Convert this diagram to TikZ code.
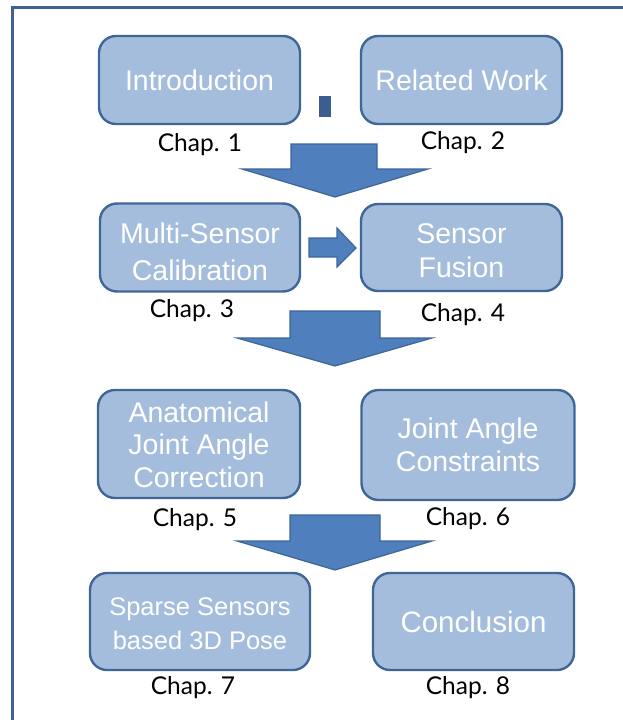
\documentclass[tikz,border=0pt]{standalone}
\usepackage{fontspec}
\setmainfont{Liberation Sans}
\newfontfamily\chapfont{Lato}
\definecolor{boxfill}{HTML}{A5BDDC}
\definecolor{boxline}{HTML}{3F6697}
\definecolor{arrfill}{HTML}{4F7FBC}
\definecolor{arrline}{HTML}{3E6699}
\definecolor{frameline}{HTML}{3F6294}
\definecolor{markfill}{HTML}{3B5E8E}
\begin{document}
\begin{tikzpicture}[x=1pt,y=-1pt,
  chapbox/.style={draw=boxline, line width=2.4pt, fill=boxfill, rounded corners=17pt,
    text=white, align=center, inner sep=0pt},
  chaplabel/.style={font=\chapfont\fontsize{24.5}{28}\selectfont, text=black, inner sep=0pt},
  blockarrow/.style={fill=arrfill, draw=arrline, line width=1.2pt, line join=miter}]
\useasboundingbox (0,0) rectangle (623,720);
\fill[white] (0,0) rectangle (623,720);
% frame
\coordinate (fa) at (12,720);
\coordinate (fb) at (12,7);
\coordinate (fc) at (623,7);
\draw[frameline, line width=3pt] (fa) -- (fb) -- (fc);

% boxes
\node[chapbox, minimum width=201pt, minimum height=88pt, font=\fontsize{28.5}{34}\selectfont] (intro) at (199.5,80) {Introduction};
\node[chapbox, minimum width=201pt, minimum height=88pt, font=\fontsize{28.5}{34}\selectfont] (rel) at (461.5,80) {Related Work};
\node[chapbox, minimum width=200pt, minimum height=88pt] (multi) at (200,247.5) {};
\node[text=white, align=center, inner sep=0pt, font=\fontsize{28.5}{37}\selectfont] (multit) at (200,251.5) {Multi-Sensor\\Calibration};
\node[chapbox, minimum width=201pt, minimum height=87pt] (fusion) at (461.5,247.5) {};
\node[text=white, align=center, inner sep=0pt, font=\fontsize{28.5}{34}\selectfont] (fusiont) at (461.5,251) {Sensor\\Fusion};
\node[chapbox, minimum width=202pt, minimum height=108pt] (anat) at (199,444) {};
\node[text=white, align=center, inner sep=0pt, font=\fontsize{28.5}{32.5}\selectfont] (anatt) at (199,444.5) {Anatomical\\Joint Angle\\Correction};
\node[chapbox, minimum width=213pt, minimum height=110pt] (jac) at (468,445) {};
\node[text=white, align=center, inner sep=0pt, font=\fontsize{28.5}{33}\selectfont] (jact) at (468,444.5) {Joint Angle\\Constraints};
\node[chapbox, minimum width=220pt, minimum height=97pt] (sparse) at (200,621.5) {};
\node[text=white, align=center, inner sep=0pt, font=\fontsize{25.5}{34}\selectfont] (sparset) at (200,624) {Sparse Sensors\\based 3D Pose};
\node[chapbox, minimum width=201pt, minimum height=97pt, font=\fontsize{29.5}{34}\selectfont] (concl) at (473.5,621.5) {Conclusion};

% small mark
\node[fill=markfill, minimum width=12pt, minimum height=21pt, inner sep=0pt] (mark) at (325,106.5) {};

% chapter labels
\node[chaplabel] (c1) at (200,145) {Chap. 1};
\node[chaplabel] (c2) at (463,143) {Chap. 2};
\node[chaplabel] (c3) at (192,311) {Chap. 3};
\node[chaplabel] (c4) at (463,315) {Chap. 4};
\node[chaplabel] (c5) at (195,520) {Chap. 5};
\node[chaplabel] (c6) at (468,519) {Chap. 6};
\node[chaplabel] (c7) at (193,688) {Chap. 7};
\node[chaplabel] (c8) at (468,688) {Chap. 8};

% big down arrows
\draw[blockarrow] (291,144) -- (377,144) -- (377,169) -- (428,169) -- (335,197) -- (242,169) -- (291,169) -- cycle;
\draw[blockarrow] (290,311) -- (380,311) -- (380,338) -- (432,338) -- (335,366) -- (237,338) -- (290,338) -- cycle;
\draw[blockarrow] (290,515) -- (380,515) -- (380,541) -- (432,541) -- (335,570) -- (237,541) -- (290,541) -- cycle;
% small right arrow
\draw[blockarrow] (309,238) -- (337,238) -- (337,228) -- (356,248) -- (337,267) -- (337,257) -- (309,257) -- cycle;
\end{tikzpicture}
\end{document}
